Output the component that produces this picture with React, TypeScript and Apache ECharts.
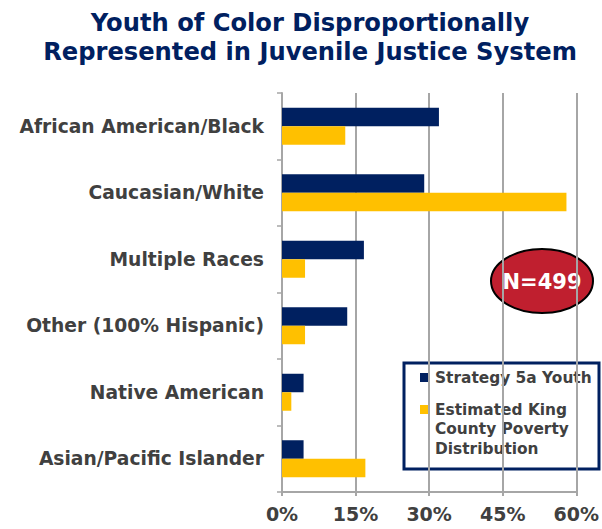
import React, { useEffect, useRef } from "react";
import * as echarts from "echarts";

const categories = [
  "African American/Black",
  "Caucasian/White",
  "Multiple Races",
  "Other (100% Hispanic)",
  "Native American",
  "Asian/Pacific Islander",
];
const seriesNames = ["Strategy 5a Youth", "Estimated King\nCounty Poverty\nDistribution"];
const strategyYouth = [32, 29, 16.7, 13.3, 4.4, 4.4];
const kingCountyPoverty = [12.9, 58, 4.7, 4.7, 1.9, 17];
const xTicks = [0, 15, 30, 45, 60];
const titleText = "Youth of Color Disproportionally\nRepresented in Juvenile Justice System";
const badgeText = "N=499";

const NAVY = "#002060";
const GOLD = "#FFC000";
const FONT = "DejaVu Sans";

export default function App() {
  const ref = useRef<HTMLDivElement>(null);
  useEffect(() => {
    if (!ref.current) return;
    const chart = echarts.init(ref.current, null, { renderer: "svg" });
    chart.setOption({
      animation: false,
      backgroundColor: "#ffffff",
      title: {
        text: titleText,
        left: 305,
        textAlign: "center",
        top: 3,
        textStyle: {
          fontFamily: FONT,
          fontSize: 24.2,
          fontWeight: "bold",
          color: NAVY,
          lineHeight: 29,
        },
      },
      grid: { left: 282, right: 23, top: 93, bottom: 37, containLabel: false },
      xAxis: {
        type: "value",
        min: xTicks[0],
        max: xTicks[xTicks.length - 1],
        interval: 15,
        axisLine: { show: true, lineStyle: { color: "#A6A6A6", width: 2 } },
        axisTick: { show: true, length: 4, lineStyle: { color: "#A6A6A6", width: 2 } },
        splitLine: { show: true, lineStyle: { color: "#A6A6A6", width: 2 } },
        axisLabel: {
          margin: 12,
          formatter: (v: number) => v + "%",
          fontFamily: FONT,
          fontSize: 19,
          fontWeight: "bold",
          color: "#404040",
        },
      },
      yAxis: {
        type: "category",
        data: categories,
        inverse: true,
        axisLine: { show: true, lineStyle: { color: "#A6A6A6", width: 2 } },
        axisTick: { show: true, length: 5, lineStyle: { color: "#A6A6A6", width: 1.5 } },
        axisLabel: {
          margin: 18,
          fontFamily: FONT,
          fontSize: 18.7,
          fontWeight: "bold",
          color: "#404040",
        },
      },
      series: [
        {
          name: seriesNames[0],
          type: "bar",
          data: strategyYouth,
          barWidth: 18.5,
          barGap: "0%",
          itemStyle: { color: NAVY },
        },
        {
          name: seriesNames[1],
          type: "bar",
          data: kingCountyPoverty,
          barWidth: 18.5,
          barGap: "0%",
          itemStyle: { color: GOLD },
        },
      ],
      graphic: [
        {
          type: "group",
          children: [
            {
              type: "ellipse",
              shape: { cx: 542, cy: 281, rx: 51, ry: 32 },
              style: { fill: "#C01F2F", stroke: "#000000", lineWidth: 2 },
            },
            {
              type: "text",
              x: 542,
              y: 282,
              style: {
                text: badgeText,
                fill: "#ffffff",
                fontFamily: FONT,
                fontSize: 21,
                fontWeight: "bold",
                align: "center",
                verticalAlign: "middle",
              },
            },
          ],
        },
        {
          type: "group",
          children: [
            {
              type: "rect",
              shape: { x: 404, y: 363, width: 195, height: 106 },
              style: { fill: "#ffffff", stroke: NAVY, lineWidth: 3 },
            },
            {
              type: "rect",
              shape: { x: 420, y: 373, width: 9, height: 9 },
              style: { fill: NAVY },
            },
            {
              type: "text",
              x: 435,
              y: 378,
              style: {
                text: seriesNames[0],
                fill: "#404040",
                fontFamily: FONT,
                fontSize: 15.4,
                fontWeight: "bold",
                align: "left",
                verticalAlign: "middle",
              },
            },
            {
              type: "rect",
              shape: { x: 420, y: 405, width: 9, height: 9 },
              style: { fill: GOLD },
            },
            {
              type: "text",
              x: 435,
              y: 400,
              style: {
                text: seriesNames[1],
                fill: "#404040",
                fontFamily: FONT,
                fontSize: 15.4,
                fontWeight: "bold",
                lineHeight: 19.5,
                align: "left",
                verticalAlign: "top",
              },
            },
          ],
        },
      ],
    });
    return () => chart.dispose();
  }, []);
  return (
    <div
      ref={ref}
      style={{ position: "absolute", left: 0, top: 0, width: 602, height: 529 }}
    />
  );
}
